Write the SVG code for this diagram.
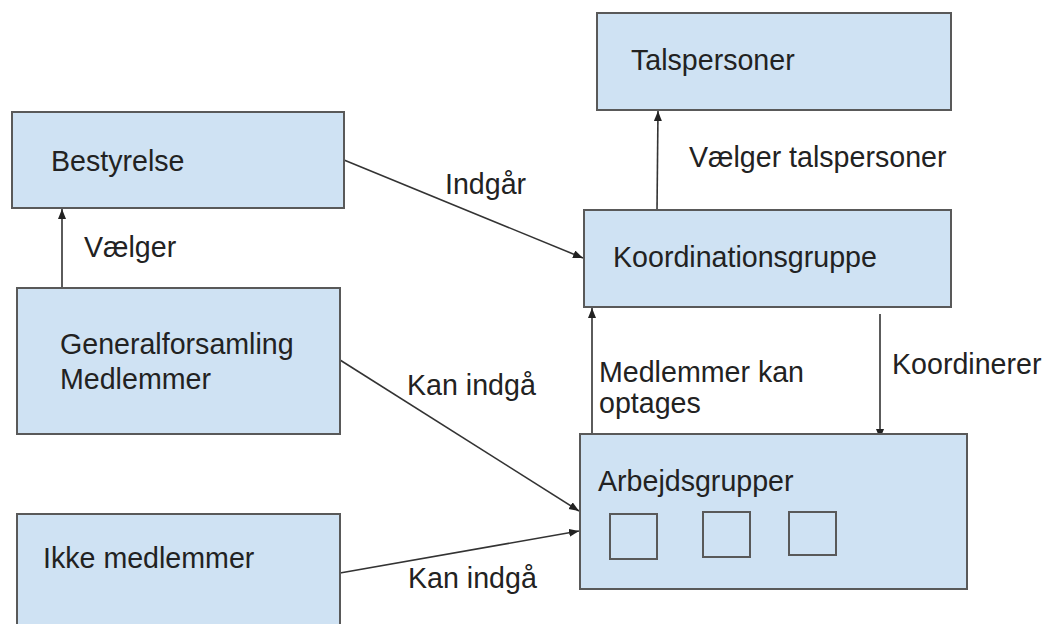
<svg xmlns="http://www.w3.org/2000/svg" width="1046" height="624" viewBox="0 0 1046 624">
<style>
.box{fill:#cfe2f3;stroke:#595959;stroke-width:2}
.sq{fill:none;stroke:#595959;stroke-width:2}
.t{font-family:"Liberation Sans",Arial,sans-serif;font-size:28.6px;fill:#222}
.c{fill:none;stroke:#333;stroke-width:1.6}
</style>
<defs>
<marker id="ah" markerUnits="userSpaceOnUse" markerWidth="12" markerHeight="10" refX="10" refY="4" orient="auto">
<path d="M0,0 L10,4 L0,8 Z" fill="#222"/>
</marker>
</defs>
<rect width="1046" height="624" fill="#fff"/>
<g id="connectors">
<line class="c" x1="62" y1="290" x2="62" y2="209" marker-end="url(#ah)"/>
<line class="c" x1="657" y1="210" x2="658" y2="111" marker-end="url(#ah)"/>
<line class="c" x1="344" y1="160" x2="583" y2="258" marker-end="url(#ah)"/>
<line class="c" x1="340" y1="360" x2="579" y2="511" marker-end="url(#ah)"/>
<line class="c" x1="340" y1="573" x2="579" y2="531" marker-end="url(#ah)"/>
<line class="c" x1="592" y1="433" x2="592" y2="308" marker-end="url(#ah)"/>
<line class="c" x1="880" y1="314" x2="880" y2="439" marker-end="url(#ah)"/>
</g>
<g id="labels">
<text class="t" x="84" y="257">Vælger</text>
<text class="t" x="689" y="167">Vælger talspersoner</text>
<text class="t" x="445" y="194">Indgår</text>
<text class="t" x="407" y="395">Kan indgå</text>
<text class="t" x="408" y="588">Kan indgå</text>
<text class="t" x="599" y="382">Medlemmer kan</text>
<text class="t" x="599" y="413">optages</text>
<text class="t" x="892" y="374">Koordinerer</text>
</g>
<g id="talspersoner">
<rect class="box" x="597" y="13" width="354" height="97"/>
<text class="t" x="631" y="70">Talspersoner</text>
</g>
<g id="bestyrelse">
<rect class="box" x="12" y="112" width="332" height="96"/>
<text class="t" x="51" y="171">Bestyrelse</text>
</g>
<g id="koordinationsgruppe">
<rect class="box" x="584" y="210" width="367" height="97"/>
<text class="t" x="613" y="267">Koordinationsgruppe</text>
</g>
<g id="generalforsamling">
<rect class="box" x="17" y="288" width="323" height="146"/>
<text class="t" x="60" y="354">Generalforsamling</text>
<text class="t" x="60" y="389">Medlemmer</text>
</g>
<g id="arbejdsgrupper">
<rect class="box" x="580" y="434" width="387" height="155"/>
<text class="t" x="598" y="491">Arbejdsgrupper</text>
<rect class="sq" x="610" y="514" width="47" height="45"/>
<rect class="sq" x="703" y="512" width="47" height="45"/>
<rect class="sq" x="789" y="512" width="47" height="43"/>
</g>
<g id="ikke-medlemmer">
<rect class="box" x="17" y="514" width="323" height="130"/>
<text class="t" x="43" y="568">Ikke medlemmer</text>
</g>
</svg>
